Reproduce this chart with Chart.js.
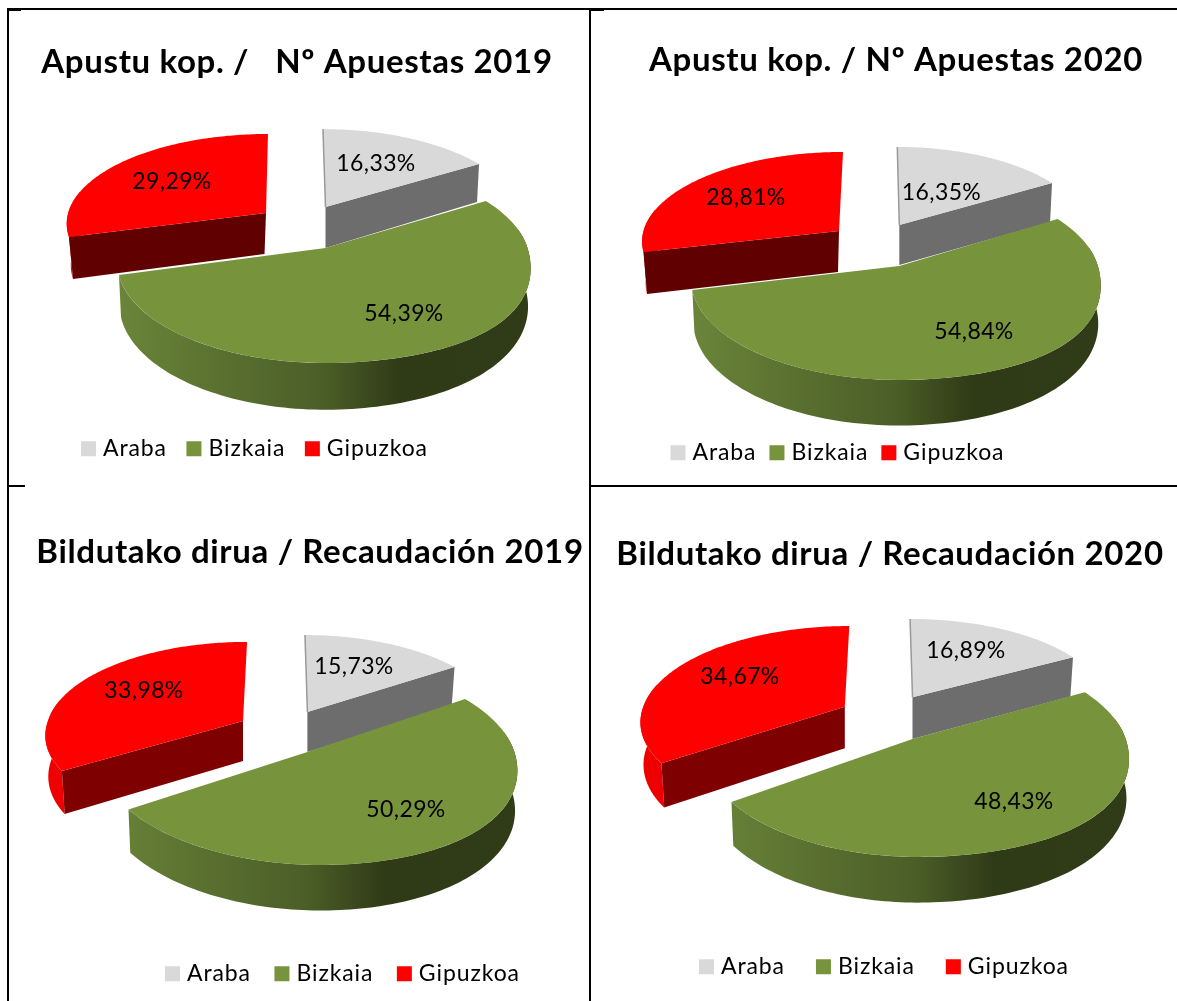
<!DOCTYPE html>
<html>
<head>
<meta charset="utf-8">
<script src="https://cdn.jsdelivr.net/npm/chart.js@4"></script>
<style>
html,body{margin:0;padding:0;background:#fff;width:1177px;height:1001px;overflow:hidden}
canvas{position:absolute;display:block}
.rule{position:absolute;background:#000}
</style>
</head>
<body>
<script>
const categories = ['Araba', 'Bizkaia', 'Gipuzkoa'];
const apuestas2019 = [16.33, 54.39, 29.29];
const apuestas2020 = [16.35, 54.84, 28.81];
const recaudacion2019 = [15.73, 50.29, 33.98];
const recaudacion2020 = [16.89, 48.43, 34.67];
const titles = [
  'Apustu kop. /   Nº Apuestas 2019',
  'Apustu kop. / Nº Apuestas 2020',
  'Bildutako dirua / Recaudación 2019',
  'Bildutako dirua / Recaudación 2020'
];
const seriesList = [apuestas2019, apuestas2020, recaudacion2019, recaudacion2020];
const sliceColors = ['#d9d9d9', '#77933c', '#ff0000'];

const FONT = 'Lato';
const panels = [
  { rect:[0,0,590,486], title:[297,62], legend:[85.5,448,24], maroon:'#600000',
    labels:[[376,164],[404,314],[172,182]],
    geo:[
      {ax:325.5,ay:207,aL:194.6,aR:194.6,s:2.9,sF:2.9,k:0,b:89,p:.143,D:41,xs:.987,ys:1.07,bx:0},
      {ax:325.5,ay:248,aL:205.7,aR:202,s:0,sF:0,k:28,b:97.75,p:.15,D:41,xs:.99,ys:1.05,bx:0},
      {ax:266,ay:213,aL:197.8,aR:197.8,s:-2.2,sF:-2.2,k:0,b:87.7,p:.11,D:41,xs:.972,ys:1.04,bx:-1.5}
    ]},
  { rect:[590,0,587,486], title:[896,60], legend:[675,452,17.5], maroon:'#600000',
    labels:[[941.5,193],[974,332],[746,198]],
    geo:[
      {ax:899.3,ay:225,aL:188,aR:188,s:2.2,sF:2.2,k:0,b:85,p:.089,D:40,xs:.987,ys:1.02,bx:0},
      {ax:899.3,ay:266,aL:205.8,aR:198.6,s:0,sF:0,k:28,b:97.6,p:.1435,D:41,xs:.99,ys:1.04,bx:0},
      {ax:839,ay:231,aL:195.5,aR:195.5,s:-4.4,sF:-4.4,k:0,b:86.7,p:.097,D:41,xs:.977,ys:1.05,bx:-1}
    ]},
  { rect:[0,486,590,515], title:[310,552], legend:[169.5,973,28], maroon:'#7f0000',
    labels:[[354,667],[406,810],[144,691]],
    geo:[
      {ax:307.4,ay:712,aL:192.6,aR:192.6,s:2.8,sF:2.8,k:0,b:88.5,p:.15,D:40,xs:.98,ys:1,bx:0},
      {ax:307.4,ay:752,aL:208,aR:207,s:12,sF:12,k:14,b:101.7,p:.1,D:41,xs:.99,ys:1.04,bx:0},
      {ax:243,ay:721,aL:195,aR:195,s:-4.5,sF:-10,k:0,b:88,p:.113,D:40,xs:.985,ys:1.06,bx:0}
    ]},
  { rect:[590,486,587,515], title:[890,554], legend:[703.5,966,35.5], maroon:'#7f0000',
    labels:[[966,651],[1014,802],[740,677]],
    geo:[
      {ax:912.5,ay:697.3,aL:194,aR:194,s:2.7,sF:2.7,k:0,b:85.9,p:.0966,D:41.7,xs:.984,ys:1.06,bx:0},
      {ax:912.5,ay:739,aL:207,aR:213.2,s:5,sF:5,k:20,b:102,p:.135,D:41,xs:.99,ys:1.04,bx:0},
      {ax:844.8,ay:706.7,aL:201.5,aR:201.5,s:-5.1,sF:-7,k:0,b:91.4,p:.133,D:41.6,xs:.985,ys:1.05,bx:0}
    ]}
];
const rules = [
  [7,8,1583,2],[7,8,2,993],[589,8,2,993],[590,485,587,2],
  [7,9,14,2],[7,485,18,2],[590,9,14,2]
];

const TITLE_SIZE = 33, TEXT_SIZE = 23;
const TITLE_LETTER = '0.65px', LEGEND_LETTER = '0.9px', LABEL_LETTER = '0.4px';

function toTop(g, th, kScale){
  const u = Math.sin(th), v = -Math.cos(th), w = 1 - g.p * v;
  const a = u < 0 ? g.aL : g.aR, s = v < 0 ? g.s : g.sF;
  const bulge = (u > 0 && v > 0) ? g.k * kScale * u * v * v : 0;
  return [(a * u + s * v + bulge) / w, g.b * v / w];
}
function pt(g, th){ const q = toTop(g, th, 1); return [g.ax + q[0], g.ay + q[1]]; }
function ptLow(g, th){ const q = toTop(g, th, .4); return [g.ax + g.bx + q[0] * g.xs, g.ay + g.D + q[1] * g.ys]; }
function trace(ctx, pts){ pts.forEach((p, i) => i ? ctx.lineTo(p[0], p[1]) : ctx.moveTo(p[0], p[1])); }
function sample(fn, g, t0, t1){ const r = []; for (let i = 0; i <= 120; i++) r.push(fn(g, t0 + (t1 - t0) * i / 120)); return r; }
function withSpacing(box, ctx, spacing){
  if (box._spaced) return;
  const draw = box.draw;
  box.draw = function(a){ ctx.save(); ctx.letterSpacing = spacing; draw.call(this, a); ctx.restore(); };
  box._spaced = true;
}

const pie3d = {
  id: 'pie3d',
  beforeDraw(chart, args, o){
    const pn = o.panel, [ox, oy] = pn.rect, ctx = chart.ctx;
    const t = chart.titleBlock;
    const lh = TITLE_SIZE * 1.2;
    t.left = pn.title[0] - ox - 600; t.right = pn.title[0] - ox + 600;
    t.top = pn.title[1] - oy - lh / 2; t.bottom = t.top + lh;
    withSpacing(t, ctx, TITLE_LETTER);
    const l = chart.legend, pad = pn.legend[2], x = pn.legend[0] - ox, tl = TEXT_SIZE * 1.2, slack = 200;
    l.left = x - pad - slack; l.right = x + l.lineWidths[0] + slack;
    l.top = pn.legend[1] - oy - pad - tl / 2 + 3; l.bottom = l.top + tl + 2 * pad;
    withSpacing(l, ctx, LEGEND_LETTER);
  },
  beforeDatasetsDraw(chart, args, o){
    const pn = o.panel, [ox, oy] = pn.rect, ctx = chart.ctx;
    const arcs = chart.getDatasetMeta(0).data;
    ctx.save();
    ctx.translate(-ox, -oy);
    [2, 0, 1].forEach(i => {
      const arc = arcs[i], g = pn.geo[i];
      const { startAngle, endAngle } = arc.getProps(['startAngle', 'endAngle'], true);
      const t0 = startAngle + Math.PI / 2, t1 = endAngle + Math.PI / 2;
      const top = sample(pt, g, t0, t1);
      // curved outer wall: only the part that faces the viewer
      if (i !== 0) {
        const w0 = i === 2 ? t0 : Math.max(t0, Math.PI / 2 - 0.2);
        const w1 = i === 2 ? Math.min(t1, 1.58 * Math.PI) : t1;
        const lowW = sample(ptLow, g, w0, w1), topW = sample(pt, g, w0, w1);
        ctx.beginPath();
        trace(ctx, topW.concat(lowW.reverse()));
        ctx.closePath();
        if (i === 1) {
          const x0 = g.ax - g.aL, x1 = g.ax + g.aR;
          const grad = ctx.createLinearGradient(x0, 0, x1, 0);
          grad.addColorStop(0, '#6a8539');
          grad.addColorStop(.25, '#5a7030');
          grad.addColorStop(.5, '#4b5e27');
          grad.addColorStop(.69, '#2f3a17');
          grad.addColorStop(1, '#303c17');
          ctx.fillStyle = grad;
        } else {
          ctx.fillStyle = '#ee0000';
        }
        ctx.fill();
      }
      // radial wall
      if (i !== 1) {
        const th = i === 0 ? t1 : t0, p = pt(g, th), q = ptLow(g, th);
        const a0 = [g.ax, g.ay], a1 = [g.ax + g.bx, g.ay + g.D];
        ctx.beginPath();
        trace(ctx, [a0, p, q, a1]);
        ctx.closePath();
        ctx.fillStyle = i === 0 ? '#6d6d6d' : pn.maroon;
        ctx.fill();
      }
      // top face, in the colour the dataset gives this arc
      ctx.beginPath();
      trace(ctx, [[g.ax, g.ay]].concat(top));
      ctx.closePath();
      ctx.fillStyle = arc.options.backgroundColor;
      ctx.fill();
      if (i === 0) {
        const p = pt(g, t0);
        ctx.beginPath(); ctx.moveTo(p[0], p[1]); ctx.lineTo(g.ax, g.ay);
        ctx.strokeStyle = '#9a9a9a'; ctx.lineWidth = 1.5; ctx.stroke();
      }
    });
    // value labels
    ctx.fillStyle = '#000';
    ctx.font = TEXT_SIZE + 'px ' + FONT;
    ctx.letterSpacing = LABEL_LETTER;
    ctx.textAlign = 'center';
    ctx.textBaseline = 'middle';
    chart.data.datasets[0].data.forEach((v, i) => {
      ctx.fillText(v.toFixed(2).replace('.', ',') + '%', pn.labels[i][0], pn.labels[i][1]);
    });
    ctx.restore();
    return false;
  }
};

panels.forEach((pn, idx) => {
  const c = document.createElement('canvas');
  const [x, y, w, h] = pn.rect;
  c.width = w; c.height = h;
  c.style.left = x + 'px'; c.style.top = y + 'px';
  c.style.width = w + 'px'; c.style.height = h + 'px';
  document.body.appendChild(c);
  new Chart(c, {
    type: 'pie',
    data: { labels: categories, datasets: [{ data: seriesList[idx], backgroundColor: sliceColors, borderWidth: 0 }] },
    options: {
      responsive: false, animation: false, devicePixelRatio: 1,
      plugins: {
        pie3d: { panel: pn },
        tooltip: { enabled: false },
        title: { display: true, text: titles[idx], color: '#000', padding: 0,
                 font: { family: FONT, weight: 'bold', size: TITLE_SIZE } },
        legend: { position: 'bottom',
          labels: { color: '#000', usePointStyle: true, pointStyle: 'rect', boxWidth: 6, boxHeight: 15,
                    padding: pn.legend[2], font: { family: FONT, size: TEXT_SIZE } } }
      }
    },
    plugins: [pie3d]
  });
});
rules.forEach(r => {
  const d = document.createElement('div');
  d.className = 'rule';
  d.style.cssText = `left:${r[0]}px;top:${r[1]}px;width:${r[2]}px;height:${r[3]}px`;
  document.body.appendChild(d);
});
</script>
</body>
</html>
